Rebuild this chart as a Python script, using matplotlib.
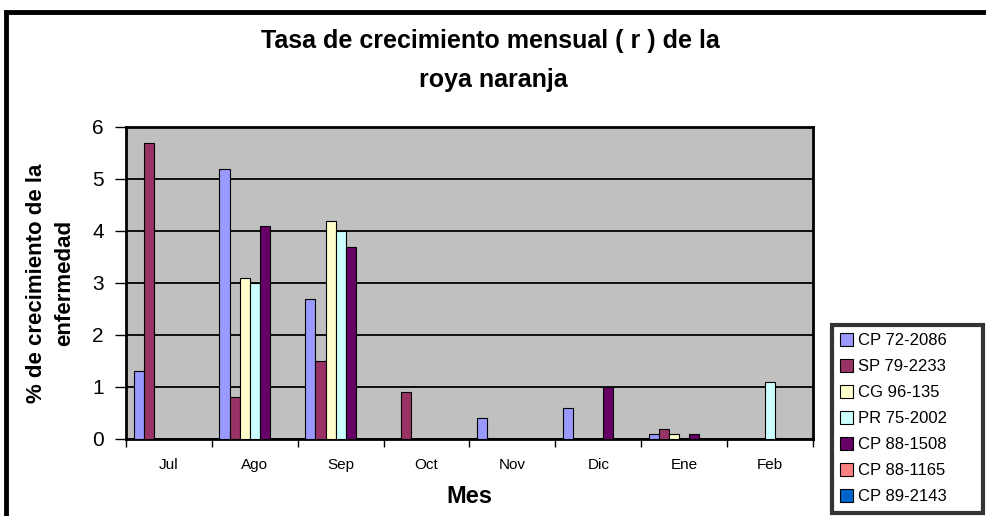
import matplotlib
matplotlib.use("Agg")
import matplotlib.pyplot as plt
from matplotlib.patches import Rectangle
import numpy as np

months = ["Jul", "Ago", "Sep", "Oct", "Nov", "Dic", "Ene", "Feb"]
series_names = ["CP 72-2086", "SP 79-2233", "CG 96-135", "PR 75-2002",
                "CP 88-1508", "CP 88-1165", "CP 89-2143"]
cp72_2086 = [1.3, 5.2, 2.7, 0.0, 0.4, 0.6, 0.1, 0.0]
sp79_2233 = [5.7, 0.8, 1.5, 0.9, 0.0, 0.0, 0.2, 0.0]
cg96_135 = [0.0, 3.1, 4.2, 0.0, 0.0, 0.0, 0.1, 0.0]
pr75_2002 = [0.0, 3.0, 4.0, 0.0, 0.0, 0.0, 0.0, 1.1]
cp88_1508 = [0.0, 4.1, 3.7, 0.0, 0.0, 1.0, 0.1, 0.0]
cp88_1165 = [0.0, 0.0, 0.0, 0.0, 0.0, 0.0, 0.0, 0.0]
cp89_2143 = [0.0, 0.0, 0.0, 0.0, 0.0, 0.0, 0.0, 0.0]
all_series = [cp72_2086, sp79_2233, cg96_135, pr75_2002, cp88_1508, cp88_1165, cp89_2143]
colors = ["#9999FF", "#993366", "#FFFFCC", "#CCFFFF", "#660066", "#FF8080", "#0066CC"]

plt.rcParams['font.family'] = ["Liberation Sans", "DejaVu Sans"]

W, H = 987, 516
fig = plt.figure(figsize=(W / 100, H / 100), dpi=100)
fig.patch.set_facecolor("white")

# outer chart frame (extends beyond right/bottom edges)
fig.patches.append(Rectangle((6 / W, -0.2), 1.2, 1 - 12 / H + 0.2, transform=fig.transFigure,
                             fill=False, edgecolor="black", linewidth=3.5))

ax = fig.add_axes([126 / W, 1 - 439 / H, (813 - 126) / W, (439 - 127) / H])
ax.set_facecolor("#C0C0C0")

n = len(all_series)
w = 1 / (n + 1.5)
x = np.arange(len(months))
for i, (vals, c, name) in enumerate(zip(all_series, colors, series_names)):
    ax.bar(x - 0.5 + 0.75 * w + i * w + w / 2, vals, width=w, color=c,
           edgecolor="black", linewidth=0.8, label=name, zorder=3)

ax.set_xlim(-0.5, len(months) - 0.5)
ax.set_ylim(0, 6)
ax.set_yticks(range(0, 7))
ax.set_yticklabels([str(v) for v in range(0, 7)], fontsize=15)
ax.yaxis.grid(True, color="black", linewidth=1.3, zorder=1)
ax.set_axisbelow(True)
ax.set_xticks(np.arange(len(months) + 1) - 0.5, minor=False)
ax.set_xticklabels([])
ax.set_xticks(x, minor=True)
ax.set_xticklabels(months, minor=True, fontsize=11)
ax.tick_params(axis="x", which="minor", length=0, pad=14)
ax.tick_params(axis="x", which="major", length=6, width=1, direction="out")
ax.tick_params(axis="y", length=8, width=1, direction="out", pad=8)
for sp in ax.spines.values():
    sp.set_linewidth(2)

ax.set_xlabel("Mes", fontsize=17, fontweight="bold", labelpad=9)
ax.set_ylabel("% de crecimiento de la\nenfermedad", fontsize=16, fontweight="bold",
              labelpad=12, linespacing=1.45)

fig.text(0.497, 1 - 41 / H, "Tasa de crecimiento mensual ( r ) de la",
         ha="center", va="center", fontsize=18, fontweight="bold")
fig.text(0.5, 1 - 80 / H, "roya naranja", ha="center", va="center",
         fontsize=18, fontweight="bold")

leg = fig.legend(loc="upper left",
                 bbox_to_anchor=(832 / W, 1 - 512 / H, (983 - 832) / W, (512 - 325) / H),
                 mode="expand", fontsize=12, frameon=True, fancybox=False, edgecolor="black",
                 handlelength=0.75, handleheight=0.75, handletextpad=0.3,
                 labelspacing=0.66, borderpad=0.5, borderaxespad=0)
leg.get_frame().set_linewidth(3)

fig.savefig("out.png", dpi=100, facecolor="white")
